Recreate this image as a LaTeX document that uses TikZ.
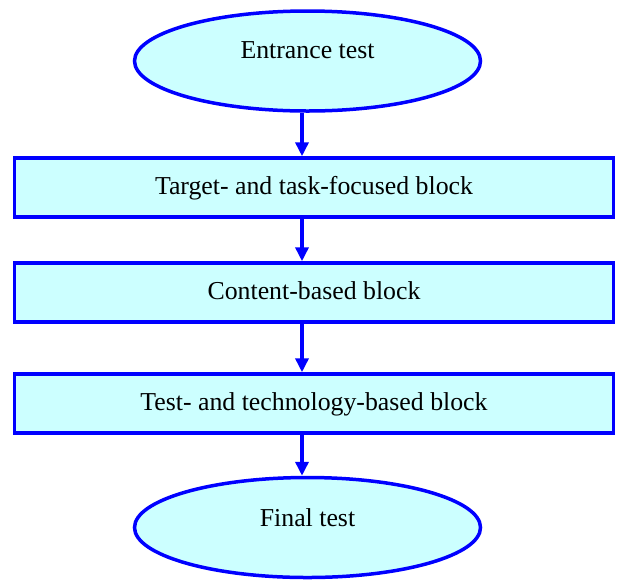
\documentclass[tikz,border=0pt]{standalone}
\usepackage{fontspec}
\setmainfont{Liberation Serif}
\usepackage{xcolor}
\usetikzlibrary{shapes.geometric,arrows.meta}
\definecolor{boxfill}{HTML}{CCFFFF}
\definecolor{boxline}{HTML}{0000FF}

\begin{document}
\begin{tikzpicture}[x=1pt,y=-1pt,
  font=\fontsize{25.8}{30}\selectfont,
  termbox/.style={ellipse,draw=boxline,fill=boxfill,line width=3.5pt,
    minimum width=346pt,minimum height=100pt,inner sep=0pt},
  blockbox/.style={rectangle,draw=boxline,fill=boxfill,line width=3.5pt,
    minimum width=599pt,minimum height=59pt,inner sep=0pt,
    text height=18pt,text depth=5pt},
  flow/.style={draw=boxline,line width=3.5pt,
    -{Triangle[length=14pt,width=13pt]}}]
\useasboundingbox (0,0) rectangle (617,582);

\node[termbox] (entrance) at (307.5,61) {\raisebox{22pt}{Entrance test}};

\node[blockbox] (target) at (314,187.5) {Target- and task-focused block};
\node[blockbox] (content) at (314,292.5) {Content-based block};
\node[blockbox] (techtest) at (314,403.5) {Test- and technology-based block};

\node[termbox] (final) at (307.5,527.5) {\raisebox{20pt}{Final test}};

\coordinate (axis) at (302,0);

\draw[flow] (entrance.south -| axis) -- (target.north -| axis);
\draw[flow] (target.south -| axis) -- (content.north -| axis);
\draw[flow] (content.south -| axis) -- (techtest.north -| axis);
\draw[flow] (techtest.south -| axis) -- (final.north -| axis);
\end{tikzpicture}
\end{document}
